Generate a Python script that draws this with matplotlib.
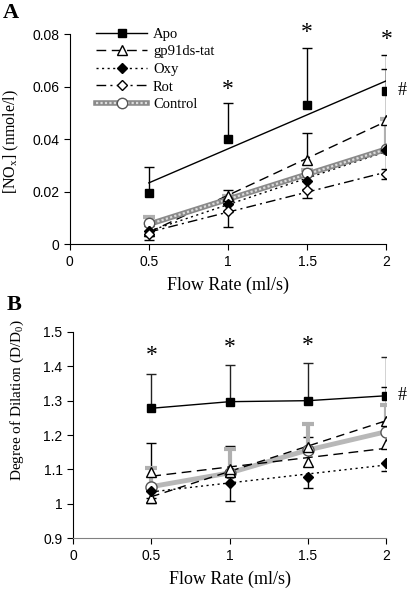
import numpy as np
import matplotlib
matplotlib.use('Agg')
import matplotlib.pyplot as plt
from matplotlib.legend_handler import HandlerTuple

plt.rcParams['mathtext.fontset'] = 'custom'
plt.rcParams['mathtext.rm'] = 'Liberation Serif'
plt.rcParams['mathtext.it'] = 'Liberation Serif:italic'

SERIF = 'Liberation Serif'
SANS = 'Liberation Sans'

flow = [0.5, 1.0, 1.5, 2.0]

# panel A: [NOx] (nmole/l)
a_apo = [0.0197, 0.0400, 0.0532, 0.0585]
a_apo_err = [0.0096, 0.0140, 0.0215, 0.0135]
a_gp91 = [0.0050, 0.0184, 0.0321, 0.0474]
a_gp91_err = [0.0020, 0.0023, 0.0102, 0.0193]
a_oxy = [0.0052, 0.0154, 0.0241, 0.0360]
a_oxy_err = [0.0020, 0.0030, 0.0030, 0.0074]
a_rot = [0.0040, 0.0128, 0.0207, 0.0268]
a_rot_err = [0.0023, 0.0061, 0.0029, 0.0019]
a_ctrl = [0.0080, 0.0165, 0.0270, 0.0363]
a_ctrl_err = [0.0023, 0.0020, 0.0013, 0.0113]
a_star_x = [1.0, 1.5, 2.0]
a_star_y = [0.0590, 0.0808, 0.0781]

# panel B: degree of dilation (D/D0)
b_apo = [1.2776, 1.2968, 1.2997, 1.3140]
b_apo_err = [0.099, 0.106, 0.110, 0.112]
b_tri1 = [1.0935, 1.0935, 1.1226, 1.1740]
b_tri1_err = [0.083, 0.075, 0.071, 0.164]
b_tri2 = [1.0180, 1.1000, 1.1650, 1.2417]
b_tri2_err = [0.016, 0.005, 0.005, 0.005]
b_oxy = [1.0370, 1.0616, 1.0790, 1.1180]
b_oxy_err = [0.020, 0.052, 0.034, 0.022]
b_ctrl = [1.0500, 1.0900, 1.1565, 1.2097]
b_ctrl_err = [0.053, 0.068, 0.0755, 0.077]
b_star_x = [0.5, 1.0, 1.5]
b_star_y = [1.432, 1.453, 1.461]

legend_names = ['Apo', 'gp91ds-tat', 'Oxy', 'Rot', 'Control']


def err_bars(ax, x, y, err, side, color, lw=1.0, cap=7):
    x = np.asarray(x)
    y = np.asarray(y)
    err = np.asarray(err)
    end = y + err if side == 'up' else y - err
    ax.vlines(x, y, end, color=color, lw=lw, zorder=2)
    ax.plot(x, end, ls='none', marker='_', ms=cap, mew=lw, color=color, zorder=2)


def trend(ax, x, y, **kw):
    # linear trendline over the data range
    p = np.polyfit(x, y, 1)
    xx = np.array([min(x), max(x)])
    return ax.plot(xx, np.polyval(p, xx), **kw)[0]


def style_axes(ax):
    for s in ['top', 'right']:
        ax.spines[s].set_visible(False)
    ax.tick_params(direction='out', length=4, width=0.8, labelsize=10)
    ax.set_xlim(0, 2)
    ax.set_xticks([0, 0.5, 1, 1.5, 2])
    ax.set_xticklabels(['0', '0.5', '1', '1.5', '2'], fontfamily=SANS)
    ax.set_xlabel('Flow Rate (ml/s)', fontfamily=SERIF, fontsize=13, labelpad=6)


fig = plt.figure(figsize=(4.08, 5.9), dpi=100)

# ---------------------------------------------------------------------------
# Panel A
# ---------------------------------------------------------------------------
ax = fig.add_axes([0.1708, 0.5859, 0.776, 0.3559])
err_bars(ax, flow, a_apo, a_apo_err, 'up', 'black')
err_bars(ax, flow, a_gp91, a_gp91_err, 'up', 'black')
err_bars(ax, flow, a_oxy, a_oxy_err, 'down', 'black')
err_bars(ax, flow, a_rot, a_rot_err, 'down', 'black')
err_bars(ax, flow, a_ctrl, a_ctrl_err, 'up', '#b0b0b0', lw=3, cap=8)

l_apo = trend(ax, flow, a_apo, color='black', lw=1, zorder=3)
l_gp = trend(ax, flow, a_gp91, color='black', lw=1, ls=(0, (7, 4)), zorder=3)
l_oxy = trend(ax, flow, a_oxy, color='black', lw=1, ls=(0, (1.5, 2.5)), zorder=3)
l_rot = trend(ax, flow, a_rot, color='black', lw=1, ls=(0, (7, 3, 1.5, 3)), zorder=3)
l_c1 = trend(ax, flow, a_ctrl, color='#8a8a8a', lw=4, zorder=3)
l_c2 = trend(ax, flow, a_ctrl, color='#dcdcdc', lw=1.6, ls=(0, (1, 1)), zorder=3)

m_apo, = ax.plot(flow, a_apo, ls='none', marker='s', ms=6, color='black', zorder=5)
m_gp, = ax.plot(flow, a_gp91, ls='none', marker='^', ms=6.5, mfc='white', mec='black', zorder=5)
m_ctrl, = ax.plot(flow, a_ctrl, ls='none', marker='o', ms=7.5, mfc='white', mec='#555555', zorder=4)
m_oxy, = ax.plot(flow, a_oxy, ls='none', marker='D', ms=5, color='black', zorder=5)
m_rot, = ax.plot(flow, a_rot, ls='none', marker='D', ms=5, mfc='white', mec='black', zorder=5)

for x, y in zip(a_star_x, a_star_y):
    ax.text(x, y, '*', fontfamily=SERIF, fontsize=17, ha='center', va='center', clip_on=False)
ax.text(2.07, a_apo[-1], '#', fontfamily=SERIF, fontsize=13, ha='left', va='center', clip_on=False)

ax.set_ylim(0, 0.08)
ax.set_yticks([0, 0.02, 0.04, 0.06, 0.08])
ax.set_yticklabels(['0', '0.02', '0.04', '0.06', '0.08'], fontfamily=SANS)
style_axes(ax)
ax.set_ylabel(r'[NO$_{\mathrm{x}}$] (nmole/l)', fontfamily=SERIF, fontsize=11.5)
ax.yaxis.set_label_coords(-0.155, 0.49)

handles = [(l_apo, m_apo), (l_gp, m_gp), (l_oxy, m_oxy), (l_rot, m_rot), (l_c1, l_c2, m_ctrl)]
leg = ax.legend(handles, legend_names, handler_map={tuple: HandlerTuple(ndivide=1, pad=0)},
                loc='upper left', bbox_to_anchor=(0.065, 1.06), frameon=False,
                prop={'family': SERIF, 'size': 10.5}, handlelength=3.5,
                handletextpad=0.4, labelspacing=0.3, borderaxespad=0)
ax.text(-0.211, 1.10, 'A', transform=ax.transAxes, fontfamily=SERIF, fontsize=16,
        fontweight='bold', ha='left', va='center')

# ---------------------------------------------------------------------------
# Panel B
# ---------------------------------------------------------------------------
ax = fig.add_axes([0.1789, 0.0876, 0.7679, 0.3502])
err_bars(ax, flow, b_apo, b_apo_err, 'up', '#222222')
err_bars(ax, flow, b_tri1, b_tri1_err, 'up', 'black')
err_bars(ax, flow, b_tri2, b_tri2_err, 'down', 'black')
err_bars(ax, flow, b_oxy, b_oxy_err, 'down', 'black')
err_bars(ax, flow, b_ctrl, b_ctrl_err, 'up', '#b0b0b0', lw=3, cap=8)

ax.plot(flow, b_apo, color='black', lw=1, marker='s', ms=6, zorder=5)
ax.plot(flow, b_ctrl, color='#b8b8b8', lw=3.5, zorder=3)
ax.plot(flow, b_ctrl, ls='none', marker='o', ms=8, mfc='white', mec='#555555', zorder=4)
trend(ax, flow, b_tri1, color='black', lw=1, ls=(0, (7, 4)), zorder=3)
trend(ax, flow, b_tri2, color='black', lw=1, ls=(0, (6, 4)), zorder=3)
trend(ax, flow, b_oxy, color='black', lw=1, ls=(0, (1.5, 2.5)), zorder=3)
ax.plot(flow, b_tri1, ls='none', marker='^', ms=6.5, mfc='white', mec='black', zorder=5)
ax.plot(flow, b_tri2, ls='none', marker='^', ms=6.5, mfc='white', mec='black', zorder=5)
ax.plot(flow, b_oxy, ls='none', marker='D', ms=5, color='black', zorder=5)

for x, y in zip(b_star_x, b_star_y):
    ax.text(x, y, '*', fontfamily=SERIF, fontsize=17, ha='center', va='center', clip_on=False)
ax.text(2.07, b_apo[-1], '#', fontfamily=SERIF, fontsize=13, ha='left', va='center', clip_on=False)

ax.set_ylim(0.9, 1.5)
ax.set_yticks([0.9, 1.0, 1.1, 1.2, 1.3, 1.4, 1.5])
ax.set_yticklabels(['0.9', '1', '1.1', '1.2', '1.3', '1.4', '1.5'], fontfamily=SANS)
style_axes(ax)
ax.spines['bottom'].set_color('#808080')
ax.set_ylabel(r'Degree of Dilation (D/D$_{\mathrm{0}}$)', fontfamily=SERIF, fontsize=11)
ax.yaxis.set_label_coords(-0.15, 0.67)
ax.text(-0.211, 1.129, 'B', transform=ax.transAxes, fontfamily=SERIF, fontsize=16,
        fontweight='bold', ha='left', va='center')

fig.savefig('out.png', dpi=100)
